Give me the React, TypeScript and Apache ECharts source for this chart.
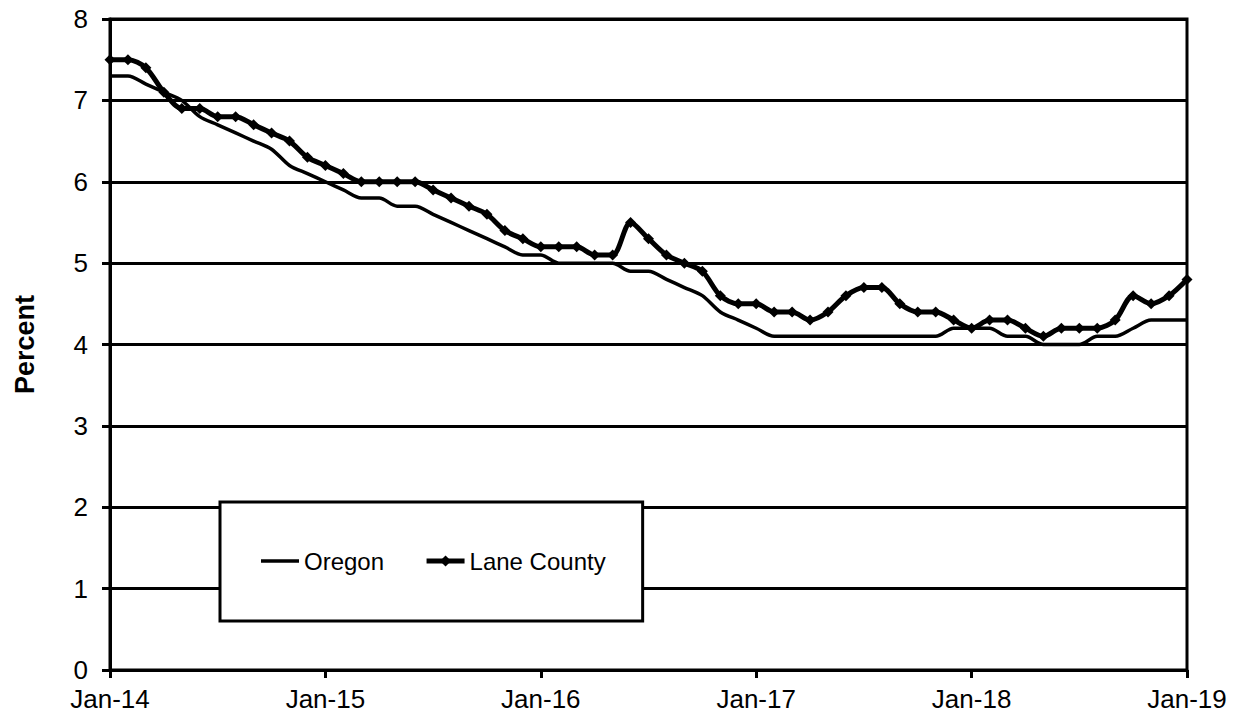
import React, { useEffect, useRef } from "react";
import * as echarts from "echarts";

const years = ["14", "15", "16", "17", "18"];
const monthNames = ["Jan", "Feb", "Mar", "Apr", "May", "Jun", "Jul", "Aug", "Sep", "Oct", "Nov", "Dec"];
const categories: string[] = [];
years.forEach((y) => monthNames.forEach((m) => categories.push(`${m}-${y}`)));
categories.push("Jan-19");

const oregon = [
  7.3, 7.3, 7.2, 7.1, 7.0, 6.8, 6.7, 6.6, 6.5, 6.4, 6.2, 6.1,
  6.0, 5.9, 5.8, 5.8, 5.7, 5.7, 5.6, 5.5, 5.4, 5.3, 5.2, 5.1,
  5.1, 5.0, 5.0, 5.0, 5.0, 4.9, 4.9, 4.8, 4.7, 4.6, 4.4, 4.3,
  4.2, 4.1, 4.1, 4.1, 4.1, 4.1, 4.1, 4.1, 4.1, 4.1, 4.1, 4.2,
  4.2, 4.2, 4.1, 4.1, 4.0, 4.0, 4.0, 4.1, 4.1, 4.2, 4.3, 4.3,
  4.3,
];

const lane = [
  7.5, 7.5, 7.4, 7.1, 6.9, 6.9, 6.8, 6.8, 6.7, 6.6, 6.5, 6.3,
  6.2, 6.1, 6.0, 6.0, 6.0, 6.0, 5.9, 5.8, 5.7, 5.6, 5.4, 5.3,
  5.2, 5.2, 5.2, 5.1, 5.1, 5.5, 5.3, 5.1, 5.0, 4.9, 4.6, 4.5,
  4.5, 4.4, 4.4, 4.3, 4.4, 4.6, 4.7, 4.7, 4.5, 4.4, 4.4, 4.3,
  4.2, 4.3, 4.3, 4.2, 4.1, 4.2, 4.2, 4.2, 4.3, 4.6, 4.5, 4.6,
  4.8,
];

const FONT = "'Liberation Sans', Arial, sans-serif";

export default function App() {
  const ref = useRef<HTMLDivElement>(null);
  useEffect(() => {
    if (!ref.current) return;
    const chart = echarts.init(ref.current, undefined, { renderer: "svg" });
    chart.setOption({
      animation: false,
      backgroundColor: "#fff",
      grid: {
        left: 110,
        right: 54,
        top: 19,
        bottom: 51,
        show: true,
        borderColor: "#000",
        borderWidth: 3,
      },
      legend: {
        left: 220,
        top: 502,
        orient: "horizontal",
        padding: [47, 37, 48, 41],
        itemWidth: 38,
        itemHeight: 14,
        itemGap: 40,
        symbolKeepAspect: true,
        borderColor: "#000",
        borderWidth: 3,
        backgroundColor: "#fff",
        lineStyle: { width: "inherit" },
        textStyle: { fontFamily: FONT, fontSize: 24, color: "#000" },
        data: [
          { name: "Oregon", icon: "path://M0,0H38V3.5H0Z" },
          { name: "Lane County" },
        ],
      },
      xAxis: {
        type: "category",
        data: categories,
        boundaryGap: false,
        axisLine: { lineStyle: { color: "#000", width: 3 } },
        axisTick: { interval: 11, length: 8, lineStyle: { color: "#000", width: 3 } },
        axisLabel: {
          interval: 11,
          margin: 16,
          fontFamily: FONT,
          fontSize: 26,
          color: "#000",
        },
        splitLine: { show: false },
      },
      yAxis: {
        type: "value",
        min: 0,
        max: 8,
        interval: 1,
        name: "Percent",
        nameLocation: "middle",
        nameGap: 72,
        nameTextStyle: { fontFamily: FONT, fontSize: 27, fontWeight: "bold", color: "#000" },
        axisLine: { show: true, lineStyle: { color: "#000", width: 3 } },
        axisTick: { show: true, length: 8, lineStyle: { color: "#000", width: 3 } },
        axisLabel: { margin: 22, fontFamily: FONT, fontSize: 26, color: "#000" },
        splitLine: { show: true, lineStyle: { color: "#000", width: 3 } },
      },
      series: [
        {
          name: "Oregon",
          type: "line",
          data: oregon,
          smooth: 0.3,
          symbol: "none",
          lineStyle: { color: "#000", width: 3.5 },
          itemStyle: { color: "#000" },
          z: 3,
        },
        {
          name: "Lane County",
          type: "line",
          data: lane,
          smooth: 0.3,
          symbol: "diamond",
          symbolSize: 11,
          lineStyle: { color: "#000", width: 5 },
          itemStyle: { color: "#000" },
          z: 4,
        },
      ],
    });
    return () => chart.dispose();
  }, []);
  return <div ref={ref} style={{ width: 1241, height: 721, position: "absolute", left: 0, top: 0 }} />;
}
